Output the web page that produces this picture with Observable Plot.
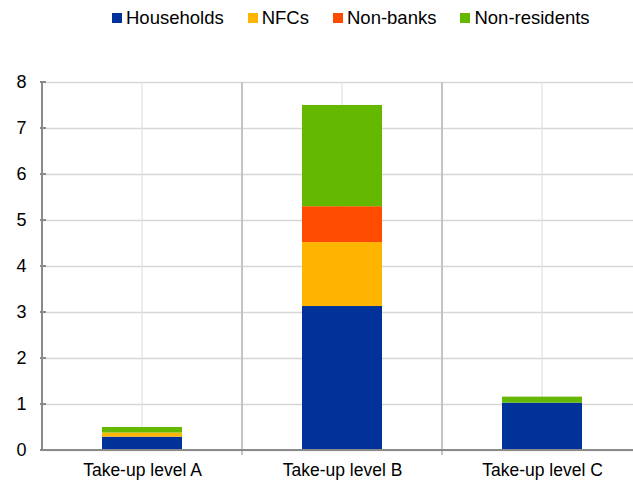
<!DOCTYPE html>
<html>
<head>
<meta charset="utf-8">
<script src="https://cdn.jsdelivr.net/npm/d3@7"></script>
<script src="https://cdn.jsdelivr.net/npm/@observablehq/plot@0.6"></script>
<style>
  html, body { margin: 0; padding: 0; background: #fff; }
  body { width: 633px; height: 481px; overflow: hidden; font-family: "Liberation Sans", Arial, sans-serif; }
  #legend { height: 35px; display: flex; align-items: center; padding-left: 112px; box-sizing: border-box; font-size: 18.5px; color: #000; }
  .item { display: flex; align-items: center; margin-right: 24px; }
  .sw { width: 10px; height: 10px; margin-right: 4px; }
  svg { display: block; }
</style>
</head>
<body>
<div id="legend"></div>
<div id="chart"></div>
<script>
const categories = ["Take-up level A", "Take-up level B", "Take-up level C"];
const series = ["Households", "NFCs", "Non-banks", "Non-residents"];
const colors = ["#003299", "#ffb400", "#ff4b00", "#65b800"];
const households = [0.29, 3.13, 1.03];
const nfcs = [0.09, 1.39, 0];
const nonBanks = [0, 0.78, 0];
const nonResidents = [0.12, 2.20, 0.13];
const yTicks = [0, 1, 2, 3, 4, 5, 6, 7, 8];

const seriesValues = [households, nfcs, nonBanks, nonResidents];
const table = series.flatMap((s, si) =>
  categories.map((c, ci) => ({category: c, series: s, value: seriesValues[si][ci]}))
);

// legend
const legend = document.getElementById("legend");
series.forEach((s, i) => {
  const it = document.createElement("div");
  it.className = "item";
  const sw = document.createElement("span");
  sw.className = "sw";
  sw.style.background = colors[i];
  const t = document.createElement("span");
  t.textContent = s;
  it.appendChild(sw); it.appendChild(t);
  legend.appendChild(it);
});

// custom mark: vertical gridlines, category separators
function frameLines(index, scales, values, dims) {
  const x = scales.x, y = scales.y;
  const bw = x.bandwidth ? x.bandwidth() : 80;
  const step = x.step ? x.step() : 200;
  const g = d3.create("svg:g");
  const y0 = y(0), y1 = y(yTicks[yTicks.length - 1]);
  categories.forEach((c, i) => {
    const cx = x(c) + bw / 2;
    g.append("line").attr("x1", cx).attr("x2", cx).attr("y1", y1).attr("y2", y0)
      .attr("stroke", "#e0e0e0").attr("stroke-width", 1.2);
    const bx = cx + step / 2;
    g.append("line").attr("x1", bx).attr("x2", bx).attr("y1", y1).attr("y2", y0 + 5)
      .attr("stroke", "#c4c4c4").attr("stroke-width", 2);
  });
  return g.node();
}
// custom mark: axis lines and y tick stubs
function axisLines(index, scales, values, dims) {
  const x = scales.x, y = scales.y;
  const bw = x.bandwidth ? x.bandwidth() : 80;
  const step = x.step ? x.step() : 200;
  const left = x(categories[0]) + bw / 2 - step / 2;
  const g = d3.create("svg:g");
  const y0 = y(0), y1 = y(yTicks[yTicks.length - 1]);
  g.append("line").attr("x1", left).attr("x2", left).attr("y1", y1 - 1).attr("y2", y0)
    .attr("stroke", "#8a8a8a").attr("stroke-width", 2);
  g.append("line").attr("x1", left).attr("x2", dims.width + 20).attr("y1", y0).attr("y2", y0)
    .attr("stroke", "#8a8a8a").attr("stroke-width", 2);
  yTicks.forEach(t => {
    g.append("line").attr("x1", left - 2).attr("x2", left + 4).attr("y1", y(t)).attr("y2", y(t))
      .attr("stroke", "#8a8a8a").attr("stroke-width", 2);
  });
  return g.node();
}

const chart = Plot.plot({
  width: 633,
  height: 446,
  marginLeft: 42,
  marginRight: 0,
  marginTop: 47,
  marginBottom: 31,
  x: {domain: categories, range: [42, 642], paddingInner: 0.6, paddingOuter: 0.3, axis: null},
  y: {domain: [0, 8], axis: null},
  color: {domain: series, range: colors},
  style: {fontFamily: "'Liberation Sans', Arial, sans-serif", fontSize: "17px", color: "#000", background: "#fff", overflow: "visible"},
  marks: [
    Plot.ruleY(yTicks, {stroke: "#d6d6d6", strokeWidth: 1.5}),
    frameLines,
    Plot.barY(table, {x: "category", y: "value", fill: "series"}),
    axisLines,
    Plot.axisY({ticks: yTicks, tickSize: 0, tickPadding: 16, tickFormat: d => d, fontSize: 18, label: null}),
    Plot.axisX({tickSize: 0, tickPadding: 13, fontSize: 17.5, label: null})
  ]
});
document.getElementById("chart").appendChild(chart);
</script>
</body>
</html>
